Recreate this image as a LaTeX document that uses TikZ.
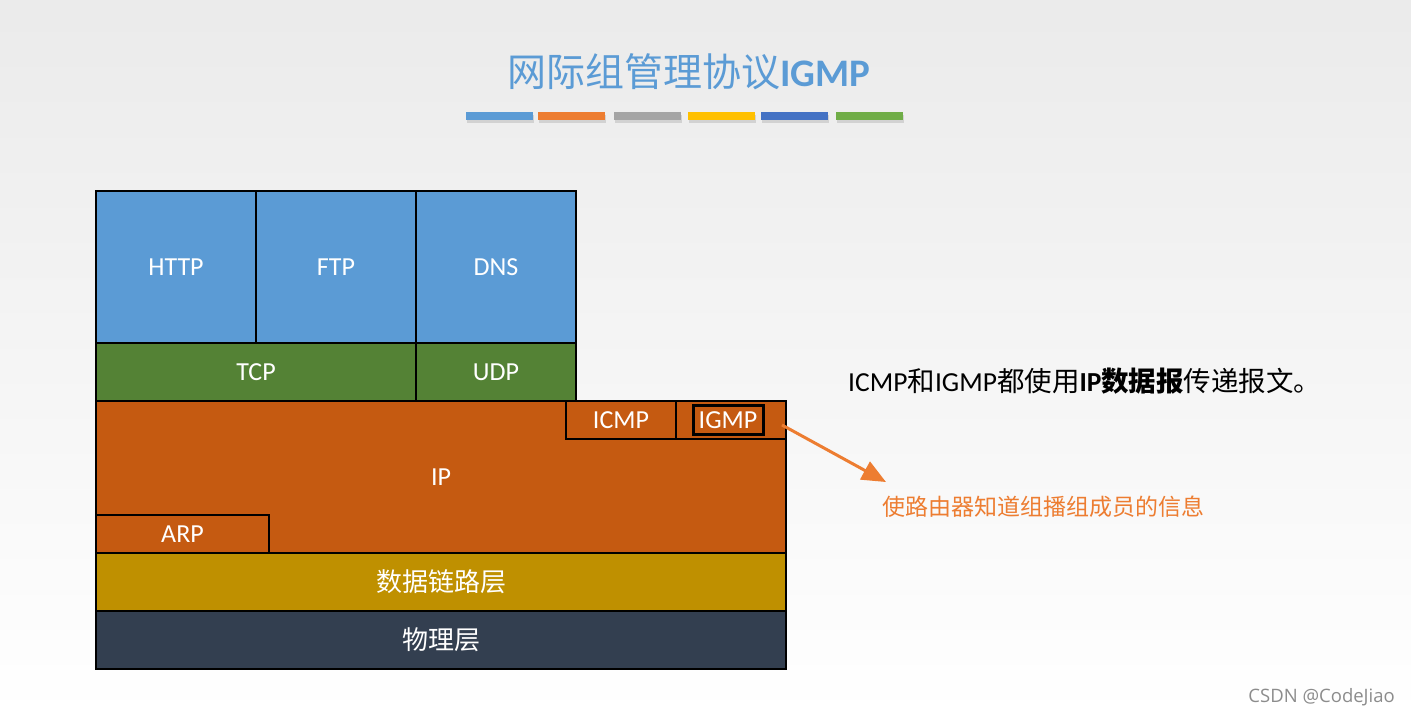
\documentclass[tikz,border=0pt]{standalone}
\usepackage{fontspec}
\setmainfont{Carlito}
\newfontfamily\cjk{Noto Sans CJK SC}
\newfontfamily\wmfont{Open Sans}
\usetikzlibrary{positioning,arrows.meta,shadows}

\definecolor{appblue}{HTML}{5B9BD5}
\definecolor{tpgreen}{HTML}{548235}
\definecolor{iporange}{HTML}{C55A11}
\definecolor{linkgold}{HTML}{BF9000}
\definecolor{physlate}{HTML}{333F50}
\definecolor{noteorange}{HTML}{ED7D31}
\definecolor{bargray}{HTML}{A5A5A5}
\definecolor{baryellow}{HTML}{FFC000}
\definecolor{bardeep}{HTML}{4472C4}
\definecolor{bargreen}{HTML}{70AD47}

\tikzset{
    layer/.style={draw=black, line width=1.5pt, outer sep=0pt, inner sep=0pt,
        text=white, font=\fontsize{26}{30}\selectfont},
    pointer/.style={draw=noteorange, line width=3pt,
        -{Triangle[length=24pt,width=20pt]}},
}

\begin{document}
\begin{tikzpicture}[x=1pt, y=-1pt]
    % Background
    \shade[top color=black!8, bottom color=white] (0,0) rectangle (1411,717);
    \useasboundingbox (0,0) rectangle (1411,717);

    % Title and colour bars
    \node [text=appblue, font=\fontsize{39}{44}\selectfont] (title) at (689,72)
        {{\cjk 网际组管理协议}\textbf{IGMP}};
    \foreach \x/\c in {466/appblue, 538/noteorange, 614/bargray,
                       688/baryellow, 761/bardeep, 836/bargreen}
        \fill [\c, drop shadow={shadow xshift=1pt, shadow yshift=-3pt, opacity=0.25}]
            (\x,112) rectangle ++(67,8);

    % Application layer
    \node [layer, fill=appblue, minimum width=160pt, minimum height=152pt,
        anchor=north west] (http) at (96,191) {HTTP};
    \node [layer, fill=appblue, minimum width=160pt, minimum height=152pt,
        right=0pt of http] (ftp) {FTP};
    \node [layer, fill=appblue, minimum width=160pt, minimum height=152pt,
        right=0pt of ftp] (dns) {DNS};

    % Transport layer
    \node [layer, fill=tpgreen, minimum width=320pt, minimum height=58pt,
        anchor=north west] (tcp) at (http.south west) {TCP};
    \node [layer, fill=tpgreen, minimum width=160pt, minimum height=58pt,
        right=0pt of tcp] (udp) {UDP};

    % Network layer
    \node [layer, fill=iporange, minimum width=690pt, minimum height=152pt,
        anchor=north west] (ip) at (tcp.south west) {IP};
    \node [layer, fill=iporange, minimum width=110pt, minimum height=38pt,
        anchor=north east] (igmpcell) at (ip.north east) {};
    \node [layer, fill=iporange, minimum width=110pt, minimum height=38pt,
        left=0pt of igmpcell] (icmp) {ICMP};
    \node [layer, line width=3pt, minimum width=70pt, minimum height=29pt]
        (igmp) at ([xshift=-3pt]igmpcell.center) {IGMP};
    \node [layer, fill=iporange, minimum width=173pt, minimum height=38pt,
        anchor=south west] (arp) at (ip.south west) {ARP};

    % Link and physical layers
    \node [layer, fill=linkgold, minimum width=690pt, minimum height=58pt,
        anchor=north west] (link) at (ip.south west) {\cjk 数据链路层};
    \node [layer, fill=physlate, minimum width=690pt, minimum height=58pt,
        below=0pt of link] (phy) {\cjk 物理层};

    % Notes
    \node [anchor=west, inner sep=0pt, font=\fontsize{27.5}{32}\selectfont] (remark) at (848,381)
        {ICMP{\cjk 和}IGMP{\cjk 都使用}\textbf{IP}{\cjk\bfseries 数据报}{\cjk 传递报文。}};
    \node [anchor=west, inner sep=0pt, text=noteorange,
        font=\cjk\fontsize{23}{27}\selectfont] (note) at (882,507)
        {使路由器知道组播组成员的信息};
    \draw [pointer] ([xshift=-4pt,yshift=-5pt]igmpcell.east)
        -- ([xshift=4pt,yshift=14pt]note.north west);

    % Watermark
    \node [anchor=east, inner sep=0pt, text=black!45, font=\wmfont\fontsize{18.5}{22}\selectfont]
        (mark) at (1395,697) {CSDN @CodeJiao};
\end{tikzpicture}
\end{document}
